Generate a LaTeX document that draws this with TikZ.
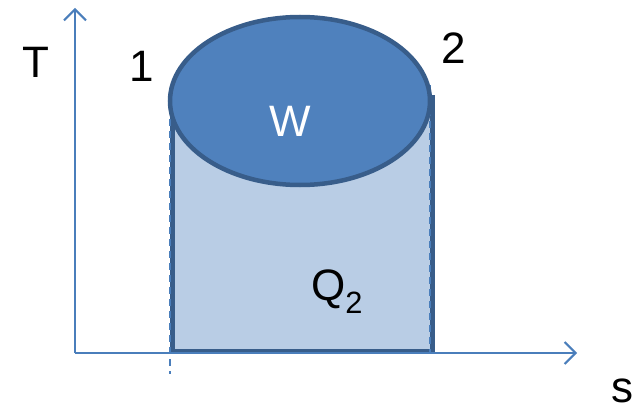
\documentclass[tikz,border=0pt]{standalone}
\usepackage{fontspec}
\setmainfont{Liberation Sans}
\usetikzlibrary{arrows.meta,shapes.geometric}
\definecolor{axisblue}{HTML}{4A7EBB}
\definecolor{darkblue}{HTML}{385D8A}
\definecolor{midblue}{HTML}{4F81BD}
\definecolor{lightblue}{HTML}{B9CDE5}
\tikzset{
  axis/.style={draw=axisblue, line width=2pt, -{Straight Barb[length=11pt,width=22pt,line width=2pt]}},
  lbl/.style={font=\fontsize{44}{48}\selectfont, inner sep=0pt},
  dashedge/.style={draw=axisblue, line width=1.6pt, dash pattern=on 7pt off 5pt}
}
\begin{document}
\begin{tikzpicture}[x=1pt,y=-1pt]
\useasboundingbox (0,0) rectangle (635,412);
\coordinate (o) at (75,353);
\coordinate (ytop) at (75,8);
\coordinate (xend) at (577,353);
% region
\node[draw=darkblue, line width=4.5pt, fill=lightblue, minimum width=260pt, minimum height=253pt, inner sep=0pt, anchor=south west] (rect) at (170,353) {};
\draw[dashedge] (170,95) -- (170,374);
\draw[dashedge] (430,85) -- (430,353);
\draw[draw=axisblue, line width=1.8pt] (170,353) -- (430,353);
% axes
\draw[axis] (o) -- (ytop);
\draw[axis] (o) -- (xend);
% ellipse
\node[draw=darkblue, line width=4.5pt, fill=midblue, ellipse, minimum width=260pt, minimum height=168pt, inner sep=0pt] (w) at (300,101) {};
\node[lbl, text=white] (wl) at (290,121) {W};
\node[lbl] (t) at (36,62) {T};
\node[lbl] (one) at (142,66) {1};
\node[lbl] (two) at (454,48) {2};
\node[lbl] (q) at (337,292) {Q\textsubscript{2}};
\node[lbl] (s) at (622,391) {s};
\end{tikzpicture}
\end{document}
